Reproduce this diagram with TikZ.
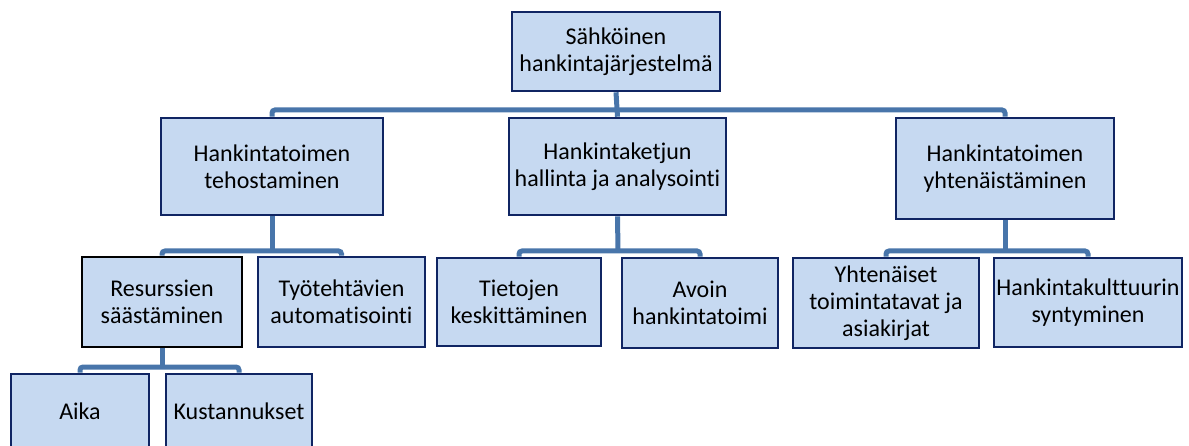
\documentclass[tikz,border=0pt]{standalone}
\usepackage{fontspec}
\setmainfont{Carlito}[Ligatures={CommonOff}]
\usetikzlibrary{backgrounds}
\definecolor{boxfill}{RGB}{198,217,241}
\definecolor{boxline}{RGB}{16,37,99}
\definecolor{connline}{RGB}{72,117,170}
\begin{document}
\begin{tikzpicture}[x=1pt,y=-1pt,
  box/.style={draw=boxline, line width=2.6pt, fill=boxfill, align=center,
    inner sep=1pt, font=\fontsize{24}{27}\selectfont, text=black},
  hl/.style={box, draw=black},
  conn/.style={draw=connline, line width=5pt, rounded corners=3pt}]
\clip (0,0) rectangle (1189,446);
\useasboundingbox (0,0) rectangle (1189,446);

% root
\node[box, minimum width=208, minimum height=79] (root) at (616,51.5)
  {Sähköinen\\hankintajärjestelmä};

% first level
\node[box, minimum width=222, minimum height=97] (teh) at (272,166.5)
  {Hankintatoimen\\tehostaminen};
\node[box, minimum width=217, minimum height=97] (ket) at (617.5,166.5)
  {Hankintaketjun\\hallinta ja analysointi};
\node[box, minimum width=218, minimum height=101] (yht) at (1005,168.5)
  {Hankintatoimen\\yhtenäistäminen};

% second level
\node[hl, minimum width=160, minimum height=90] (res) at (162,302)
  {Resurssien\\säästäminen};
\node[box, minimum width=167, minimum height=90] (tyo) at (341.5,302)
  {Työtehtävien\\automatisointi};
\node[box, minimum width=164, minimum height=88] (tie) at (519,302)
  {Tietojen\\keskittäminen};
\node[box, minimum width=156, minimum height=90] (avo) at (700,303)
  {Avoin\\hankintatoimi};
\node[box, minimum width=186, minimum height=90] (yts) at (886,303)
  {Yhtenäiset\\toimintatavat ja\\asiakirjat};
\node[box, minimum width=188, minimum height=89] (kul) at (1088,302.5)
  {Hankintakulttuurin\\syntyminen};

% third level
\node[box, minimum width=138, minimum height=75] (aik) at (80,411.5) {Aika};
\node[box, minimum width=146, minimum height=75] (kus) at (239,411.5) {Kustannukset};

% connectors
\begin{scope}[on background layer]
  \coordinate (b0) at (616,110);
  \draw[conn] (root.south) -- (ket.north);
  \draw[conn] (teh.north) |- (b0) -| (yht.north);

  \coordinate (b1) at (272,251);
  \draw[conn] (teh.south) -- (b1);
  \draw[conn] (res.north) |- (b1) -| (tyo.north);

  \coordinate (b2) at (618,251);
  \draw[conn] (ket.south) -- (b2);
  \draw[conn] (tie.north) |- (b2) -| (avo.north);

  \coordinate (b3) at (1005,251);
  \draw[conn] (yht.south) -- (b3);
  \draw[conn] (yts.north) |- (b3) -| (kul.north);

  \coordinate (b4) at (162,367);
  \draw[conn] (res.south) -- (b4);
  \draw[conn] (aik.north) |- (b4) -| (kus.north);
\end{scope}
\end{tikzpicture}
\end{document}
